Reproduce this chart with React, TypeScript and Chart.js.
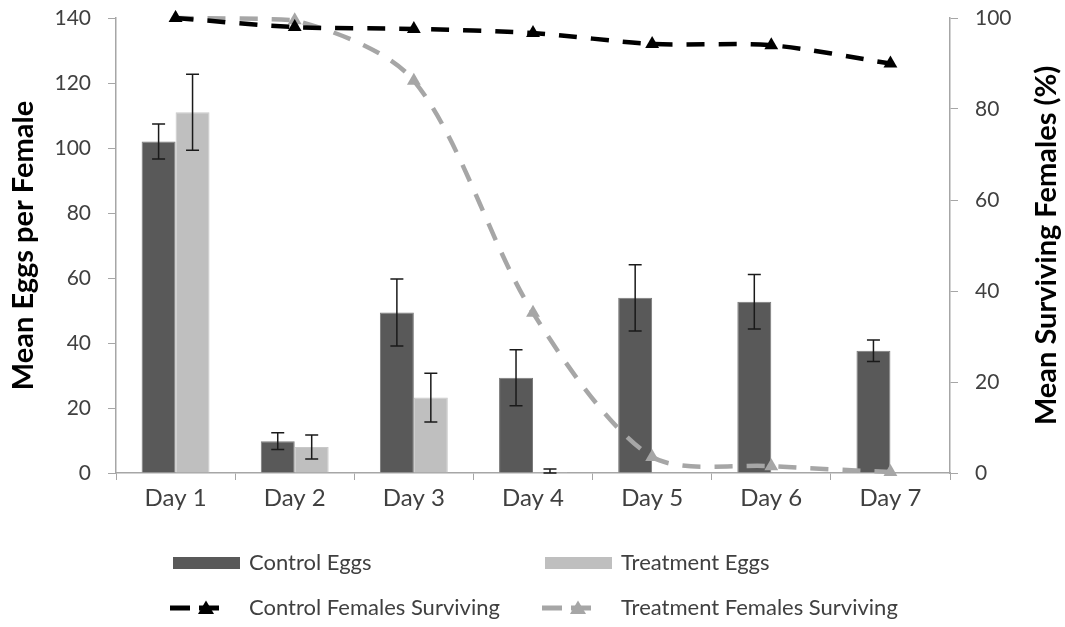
import React, { useEffect, useRef } from "react";
import { Chart, registerables } from "chart.js";

Chart.register(...registerables);

const days = ["Day 1", "Day 2", "Day 3", "Day 4", "Day 5", "Day 6", "Day 7"];
const controlEggs = [102, 9.8, 49.4, 29.3, 53.9, 52.7, 37.6];
const controlEggsErr = [5.4, 2.6, 10.3, 8.6, 10.2, 8.4, 3.3];
const treatmentEggs = [111, 8, 23.2, 0.3, null, null, null];
const treatmentEggsErr = [11.7, 3.7, 7.5, 0.9, null, null, null];
const controlSurviving = [100, 98, 97.6, 96.7, 94.3, 94, 90];
const treatmentSurviving = [100, 99.5, 86.2, 35.2, 3.5, 1.5, 0.2];

const leftTitle = "Mean Eggs per Female";
const rightTitle = "Mean Surviving Females (%)";

const FONT = "Lato, 'Open Sans', sans-serif";
const TICK_COLOR = "#404040";
const AXIS_COLOR = "#a6a6a6";

const errorBarPlugin = {
  id: "errorBars",
  afterDatasetsDraw(chart: any) {
    const ctx = chart.ctx;
    const yScale = chart.scales.y;
    const sets: [number, any[], any[]][] = [
      [0, controlEggs, controlEggsErr],
      [1, treatmentEggs, treatmentEggsErr],
    ];
    ctx.save();
    ctx.strokeStyle = "#1a1a1a";
    ctx.lineWidth = 1.5;
    sets.forEach(([di, vals, errs]) => {
      const meta = chart.getDatasetMeta(di);
      meta.data.forEach((el: any, j: number) => {
        const v = vals[j];
        const e = errs[j];
        if (v == null || e == null) return;
        const x = el.x;
        const yTop = yScale.getPixelForValue(v + e);
        const yBot = yScale.getPixelForValue(Math.max(0, v - e));
        ctx.beginPath();
        ctx.moveTo(x, yTop);
        ctx.lineTo(x, yBot);
        ctx.moveTo(x - 6.5, yTop);
        ctx.lineTo(x + 6.5, yTop);
        ctx.moveTo(x - 6.5, yBot);
        ctx.lineTo(x + 6.5, yBot);
        ctx.stroke();
      });
    });
    ctx.restore();
  },
};

const axisTitlePlugin = {
  id: "axisTitles",
  afterDraw(chart: any) {
    const ctx = chart.ctx;
    const area = chart.chartArea;
    const cy = (area.top + area.bottom) / 2;
    ctx.save();
    ctx.fillStyle = "#000000";
    ctx.font = `bold 29px ${FONT}`;
    ctx.textAlign = "center";
    ctx.textBaseline = "alphabetic";
    const draw = (text: string, baseX: number) => {
      ctx.save();
      ctx.translate(baseX, cy);
      ctx.rotate(-Math.PI / 2);
      ctx.fillText(text, 0, 0);
      ctx.restore();
    };
    draw(leftTitle, chart.scales.y.left + 33);
    draw(rightTitle, chart.scales.y1.left + 106);
    ctx.restore();
  },
};

function LineMarker({ color }: { color: string }) {
  return (
    <svg width={54} height={20} style={{ display: "block" }}>
      <line x1={0} y1={10} x2={54} y2={10} stroke={color} strokeWidth={5} strokeDasharray="20 9" />
      <polygon points="36,2.5 44,16 28,16" fill={color} />
    </svg>
  );
}

function fixVertical(width: number) {
  return (scale: any) => {
    scale.width = width;
    scale.paddingTop = 0;
    scale.paddingBottom = 0;
  };
}

export default function App() {
  const canvasRef = useRef<HTMLCanvasElement | null>(null);

  useEffect(() => {
    if (!canvasRef.current) return;
    const chart = new Chart(canvasRef.current, {
      type: "bar",
      data: {
        labels: days,
        datasets: [
          {
            type: "bar",
            label: "Control Eggs",
            data: controlEggs,
            backgroundColor: "#595959",
            borderColor: "#7a7a7a",
            borderWidth: 1,
            yAxisID: "y",
            order: 2,
            categoryPercentage: 0.57,
            barPercentage: 1.0,
          },
          {
            type: "bar",
            label: "Treatment Eggs",
            data: treatmentEggs,
            backgroundColor: "#bfbfbf",
            borderColor: "#c8c8c8",
            borderWidth: 1,
            yAxisID: "y",
            order: 2,
            categoryPercentage: 0.57,
            barPercentage: 1.0,
          },
          {
            type: "line",
            label: "Control Females Surviving",
            data: controlSurviving,
            borderColor: "#000000",
            backgroundColor: "#000000",
            borderWidth: 4.5,
            borderDash: [18, 14],
            tension: 0.3,
            pointStyle: "triangle",
            pointRadius: 8,
            pointBorderWidth: 0,
            pointBackgroundColor: "#000000",
            yAxisID: "y1",
            order: 1,
            clip: false,
          },
          {
            type: "line",
            label: "Treatment Females Surviving",
            data: treatmentSurviving,
            borderColor: "#a6a6a6",
            backgroundColor: "#a6a6a6",
            borderWidth: 4.5,
            borderDash: [18, 14],
            tension: 0.3,
            pointStyle: "triangle",
            pointRadius: 8,
            pointBorderWidth: 0,
            pointBackgroundColor: "#a6a6a6",
            yAxisID: "y1",
            order: 1,
            clip: false,
          },
        ] as any,
      },
      options: {
        animation: false,
        responsive: true,
        maintainAspectRatio: false,
        layout: { padding: { top: 18, left: 0, right: 0, bottom: 0 } },
        plugins: {
          legend: { display: false },
          tooltip: { enabled: false },
        },
        scales: {
          x: {
            grid: {
              display: true,
              drawOnChartArea: false,
              drawTicks: true,
              tickLength: 7,
              color: AXIS_COLOR,
              offset: true,
            },
            border: { display: true, color: AXIS_COLOR, width: 1.5 },
            ticks: {
              color: TICK_COLOR,
              font: { family: FONT, size: 24 },
              padding: 4,
              maxRotation: 0,
            },
            afterFit(scale: any) {
              scale.height = 154;
              scale.paddingLeft = 0;
              scale.paddingRight = 0;
            },
          },
          y: {
            position: "left",
            min: 0,
            max: 140,
            ticks: {
              stepSize: 20,
              color: TICK_COLOR,
              font: { family: FONT, size: 21 },
              padding: 17,
            },
            grid: {
              drawOnChartArea: false,
              drawTicks: true,
              tickLength: 8,
              color: AXIS_COLOR,
            },
            border: { display: true, color: AXIS_COLOR, width: 1.5 },
            title: { display: false },
            afterFit: fixVertical(116),
          },
          y1: {
            position: "right",
            min: 0,
            max: 100,
            ticks: {
              stepSize: 20,
              color: TICK_COLOR,
              font: { family: FONT, size: 21 },
              padding: 17,
            },
            grid: {
              drawOnChartArea: false,
              drawTicks: true,
              tickLength: 8,
              color: AXIS_COLOR,
            },
            border: { display: true, color: AXIS_COLOR, width: 1.5 },
            title: { display: false },
            afterFit: fixVertical(115),
          },
        },
      } as any,
      plugins: [errorBarPlugin, axisTitlePlugin],
    });
    return () => chart.destroy();
  }, []);

  const legendText: React.CSSProperties = {
    position: "absolute",
    fontFamily: FONT,
    fontSize: 22,
    color: TICK_COLOR,
    lineHeight: "26px",
    whiteSpace: "nowrap",
  };

  return (
    <div style={{ position: "absolute", left: 0, top: 0, width: 1065, height: 627, background: "#fff" }}>
      <canvas ref={canvasRef} />
      <div style={{ position: "absolute", left: 173, top: 557, width: 67, height: 12, background: "#595959" }} />
      <div style={{ ...legendText, left: 249, top: 549 }}>Control Eggs</div>
      <div style={{ position: "absolute", left: 545, top: 557, width: 67, height: 12, background: "#bfbfbf" }} />
      <div style={{ ...legendText, left: 621, top: 549 }}>Treatment Eggs</div>
      <div style={{ position: "absolute", left: 170, top: 598 }}>
        <LineMarker color="#000000" />
      </div>
      <div style={{ ...legendText, left: 249, top: 594 }}>Control Females Surviving</div>
      <div style={{ position: "absolute", left: 542, top: 598 }}>
        <LineMarker color="#a6a6a6" />
      </div>
      <div style={{ ...legendText, left: 621, top: 594 }}>Treatment Females Surviving</div>
    </div>
  );
}
